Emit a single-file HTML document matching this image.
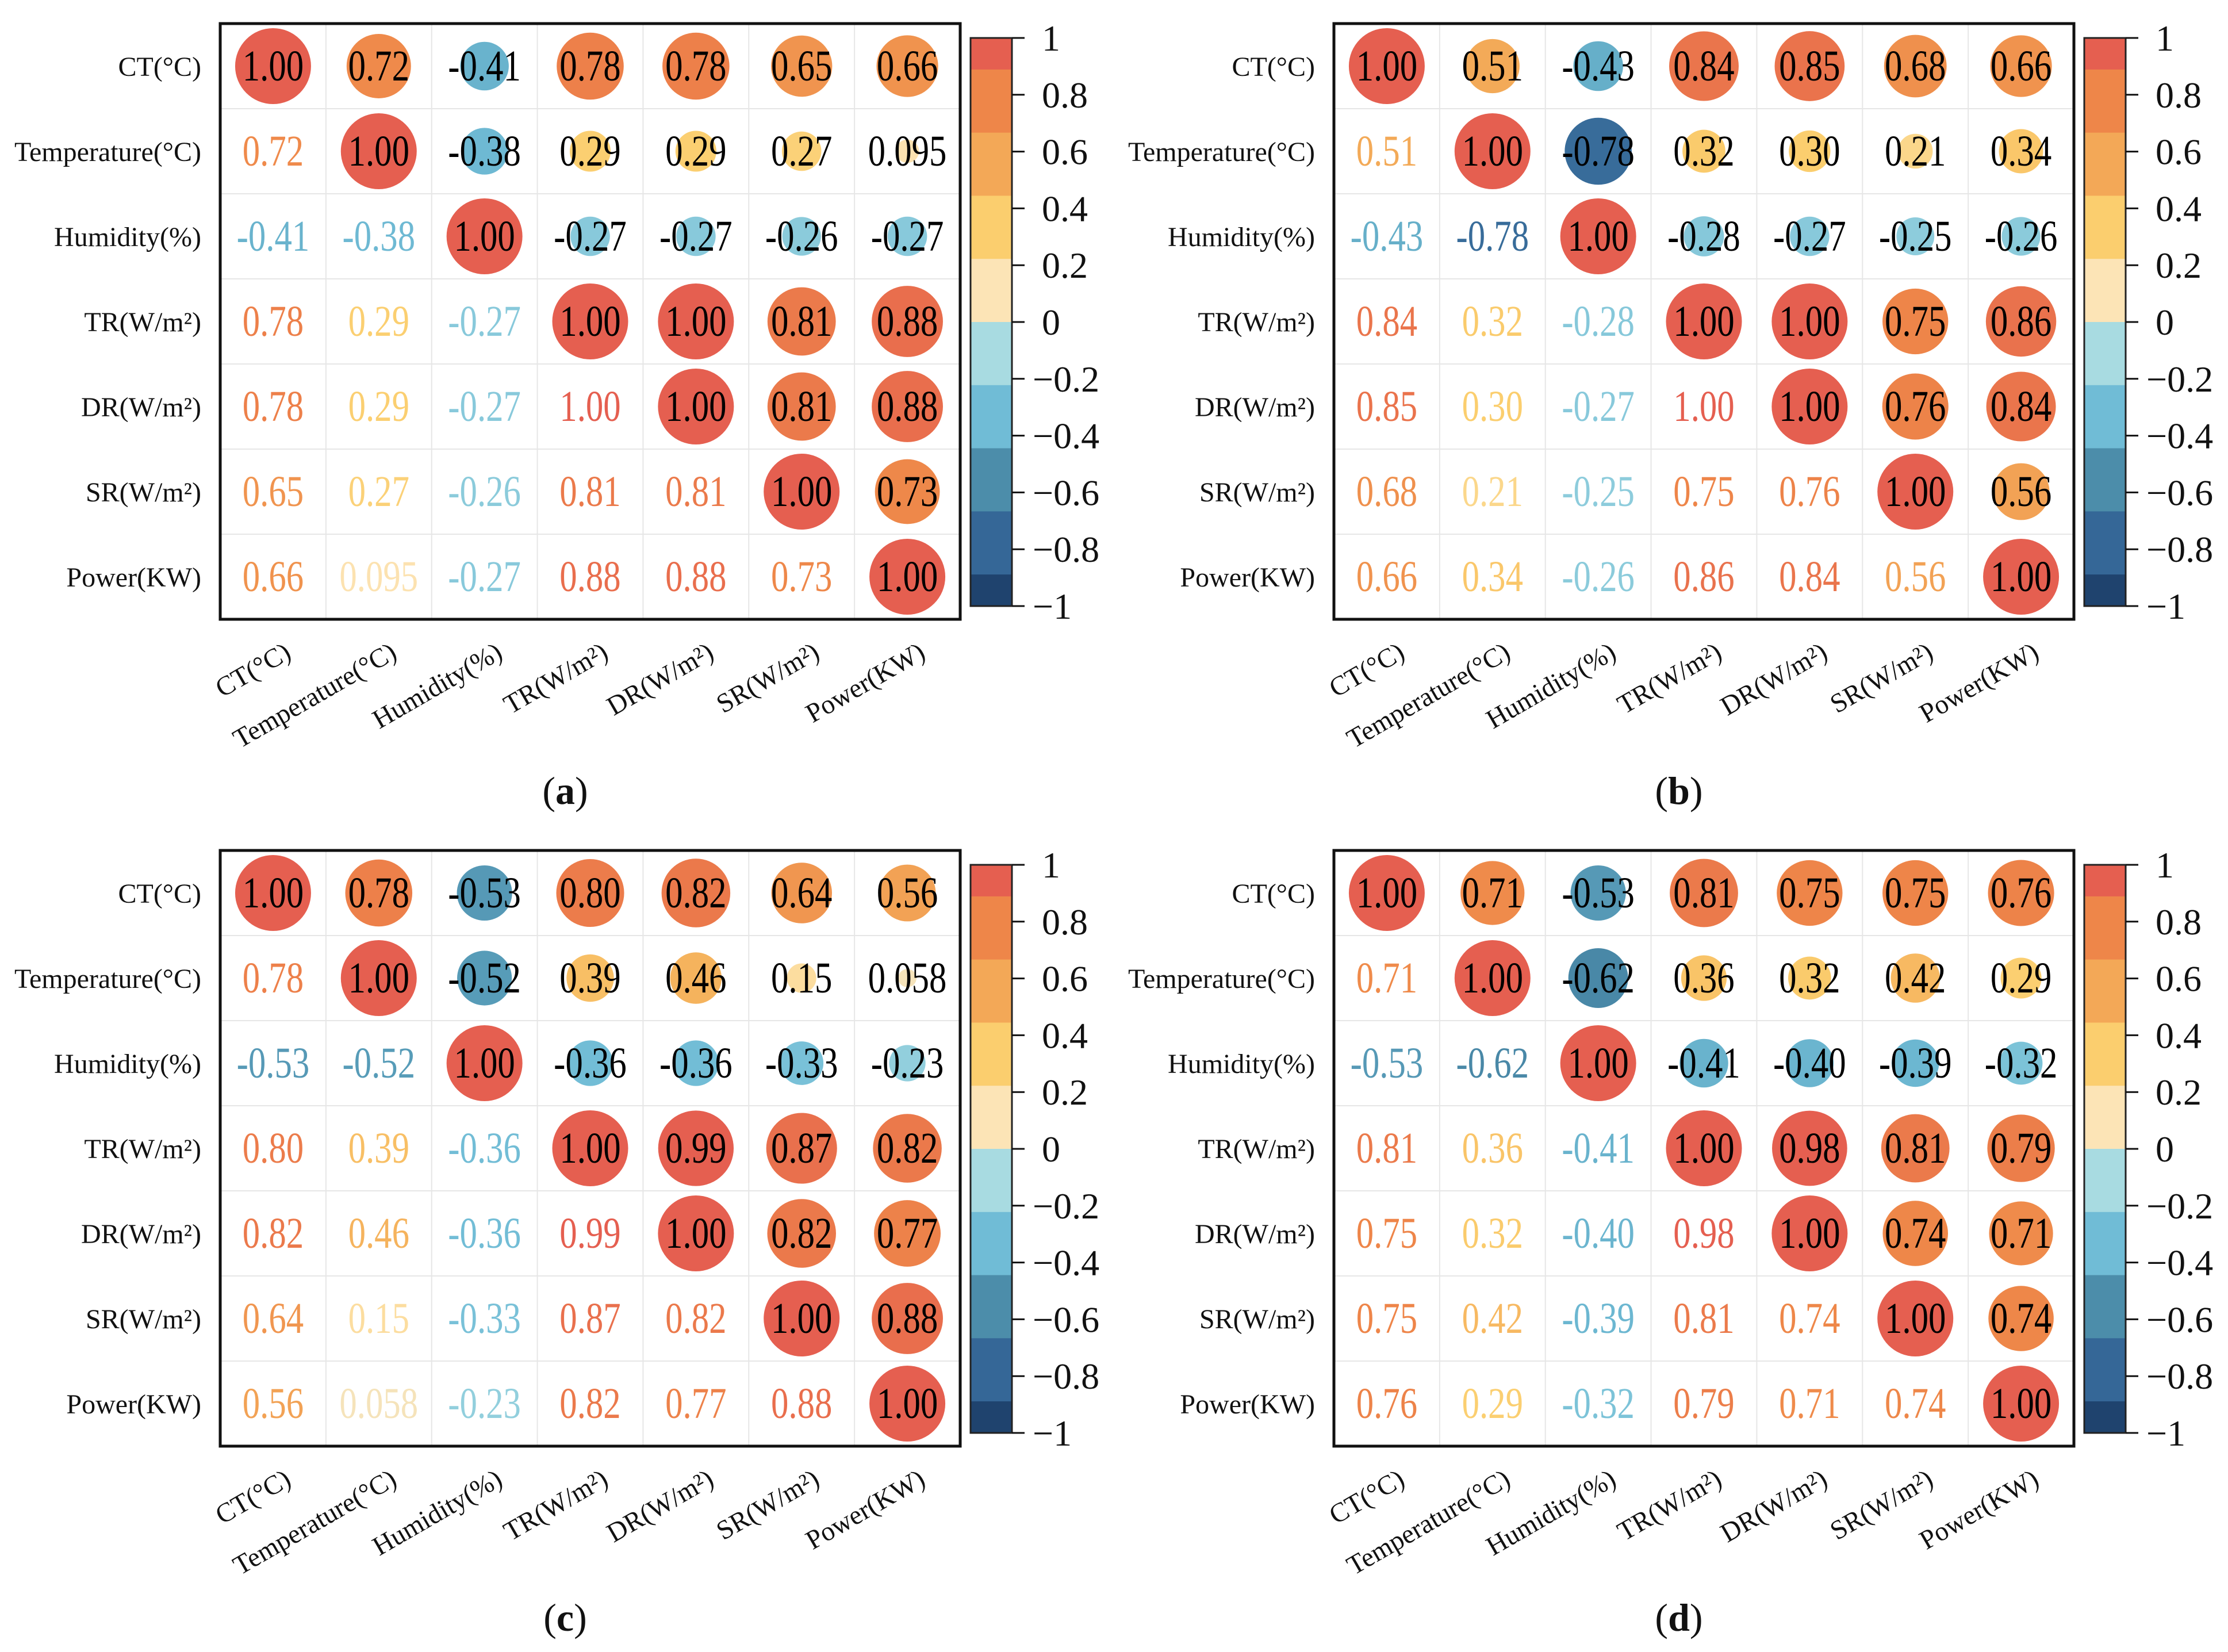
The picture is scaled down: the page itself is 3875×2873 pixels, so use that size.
<!DOCTYPE html>
<html><head><meta charset="utf-8">
<style>
html,body{margin:0;padding:0;background:#fff;}
svg{display:block;}
text{font-family:"Liberation Serif",serif;}
</style></head>
<body>
<svg id="fig" width="3875" height="2873" viewBox="0 0 3875 2873" xmlns="http://www.w3.org/2000/svg"></svg>
<script>
// ---- data ----
const varLabels = ["CT(°C)","Temperature(°C)","Humidity(%)","TR(W/m²)","DR(W/m²)","SR(W/m²)","Power(KW)"];
const colorbarTicks = [1,0.8,0.6,0.4,0.2,0,-0.2,-0.4,-0.6,-0.8,-1];
const panelLetters = ["(a)","(b)","(c)","(d)"];
const matrixA = [
 [1.00,0.72,-0.41,0.78,0.78,0.65,0.66],
 [0.72,1.00,-0.38,0.29,0.29,0.27,0.095],
 [-0.41,-0.38,1.00,-0.27,-0.27,-0.26,-0.27],
 [0.78,0.29,-0.27,1.00,1.00,0.81,0.88],
 [0.78,0.29,-0.27,1.00,1.00,0.81,0.88],
 [0.65,0.27,-0.26,0.81,0.81,1.00,0.73],
 [0.66,0.095,-0.27,0.88,0.88,0.73,1.00]];
const matrixB = [
 [1.00,0.51,-0.43,0.84,0.85,0.68,0.66],
 [0.51,1.00,-0.78,0.32,0.30,0.21,0.34],
 [-0.43,-0.78,1.00,-0.28,-0.27,-0.25,-0.26],
 [0.84,0.32,-0.28,1.00,1.00,0.75,0.86],
 [0.85,0.30,-0.27,1.00,1.00,0.76,0.84],
 [0.68,0.21,-0.25,0.75,0.76,1.00,0.56],
 [0.66,0.34,-0.26,0.86,0.84,0.56,1.00]];
const matrixC = [
 [1.00,0.78,-0.53,0.80,0.82,0.64,0.56],
 [0.78,1.00,-0.52,0.39,0.46,0.15,0.058],
 [-0.53,-0.52,1.00,-0.36,-0.36,-0.33,-0.23],
 [0.80,0.39,-0.36,1.00,0.99,0.87,0.82],
 [0.82,0.46,-0.36,0.99,1.00,0.82,0.77],
 [0.64,0.15,-0.33,0.87,0.82,1.00,0.88],
 [0.56,0.058,-0.23,0.82,0.77,0.88,1.00]];
const matrixD = [
 [1.00,0.71,-0.53,0.81,0.75,0.75,0.76],
 [0.71,1.00,-0.62,0.36,0.32,0.42,0.29],
 [-0.53,-0.62,1.00,-0.41,-0.40,-0.39,-0.32],
 [0.81,0.36,-0.41,1.00,0.98,0.81,0.79],
 [0.75,0.32,-0.40,0.98,1.00,0.74,0.71],
 [0.75,0.42,-0.39,0.81,0.74,1.00,0.74],
 [0.76,0.29,-0.32,0.79,0.71,0.74,1.00]];
// colormap top (1) to bottom (-1)
const cmap = ["#E55F50","#EE8649","#F3A857","#FBCE6E","#FCE4B6","#A8DBE1","#70BCD6","#4C8DAA","#356797","#1F436E"];

// ---- helpers ----
const NS = "http://www.w3.org/2000/svg";
const svg = document.getElementById("fig");
function mk(tag, attrs, parent){
  const e = document.createElementNS(NS, tag);
  for (const k in attrs) e.setAttribute(k, attrs[k]);
  (parent||svg).appendChild(e);
  return e;
}
function hex2rgb(h){return [parseInt(h.slice(1,3),16),parseInt(h.slice(3,5),16),parseInt(h.slice(5,7),16)];}
function colorFor(v){
  let t = (1 - v) * 4.5 - 0.15;
  t = Math.max(0, Math.min(9, t));
  const i = Math.floor(t), f = t - i;
  const a = hex2rgb(cmap[i]), b = hex2rgb(cmap[Math.min(9,i+1)]);
  const c = a.map((x,k)=>Math.round(x + (b[k]-x)*f));
  return "rgb("+c.join(",")+")";
}
function fmt(v){
  return Math.abs(v) < 0.1 ? v.toFixed(3) : v.toFixed(2);
}

const panels = [
  {m: matrixA, x0: 383, y0: 41},
  {m: matrixB, x0: 2320, y0: 41},
  {m: matrixC, x0: 383, y0: 1479},
  {m: matrixD, x0: 2320, y0: 1479}
];
const W = 1287, H = 1036, n = 7;
const cw = W / n, ch = H / n;
const rMax = 66;

panels.forEach((p, pi) => {
  const g = mk("g", {});
  
  
  const xScale = j => p.x0 + cw * (j + 0.5);
  const yScale = i => p.y0 + ch * (i + 0.5);
  for (let k = 1; k < n; k++) {
    const gl = mk("line", {x1: p.x0 + cw*k, y1: p.y0, x2: p.x0 + cw*k, y2: p.y0 + H, stroke: "#e6e6e6", "stroke-width": 2}, g);
    
    
    const gh = mk("line", {x1: p.x0, y1: p.y0 + ch*k, x2: p.x0 + W, y2: p.y0 + ch*k, stroke: "#e6e6e6", "stroke-width": 2}, g);
    
    
  }
  for (let i = 0; i < n; i++) for (let j = 0; j < n; j++) {
    const v = p.m[i][j];
    const cx = xScale(j), cy = yScale(i);
    const col = colorFor(v);
    if (j >= i) {
      const c = mk("circle", {cx: cx, cy: cy, r: rMax * Math.sqrt(Math.abs(v)), fill: col}, g);
      
      
    }
    const t = mk("text", {x: cx, y: cy + 25, "text-anchor": "middle", "font-size": 76, fill: j >= i ? "#000" : col, transform: "translate(" + cx + ",0) scale(0.8,1) translate(" + (-cx) + ",0)"}, g);
    
    
    t.textContent = fmt(v);
  }
  const fr = mk("rect", {x: p.x0, y: p.y0, width: W, height: H, fill: "none", stroke: "#111", "stroke-width": 5}, g);
  
  
  varLabels.forEach((lab, i) => {
    const t = mk("text", {x: p.x0 - 33, y: yScale(i) + 17, "text-anchor": "end", "font-size": 48, fill: "#111"}, g);
    
    
    t.textContent = lab;
  });
  varLabels.forEach((lab, j) => {
    const ax = xScale(j) + 34, ay = p.y0 + H + 66;
    const t = mk("text", {x: ax, y: ay, "text-anchor": "end", "font-size": 47, fill: "#111", transform: "rotate(-30 " + ax + " " + ay + ")"}, g);
    
    
    t.textContent = lab;
  });
  const cbx = p.x0 + 1305, cbw = 72, cby = p.y0 + 25, cbh = 988;
  const cbScale = v => cby + (1 - v) / 2 * cbh;
  const step = 2 / 9;
  cmap.forEach((c, k) => {
    const vTop = Math.min(1, 1 - k*step + step/2), vBot = Math.max(-1, 1 - k*step - step/2);
    const r = mk("rect", {x: cbx, y: cbScale(vTop), width: cbw, height: cbScale(vBot) - cbScale(vTop) + 0.5, fill: c}, g);
    
    
  });
  const cbf = mk("rect", {x: cbx, y: cby, width: cbw, height: cbh, fill: "none", stroke: "#222", "stroke-width": 3}, g);
  
  
  colorbarTicks.forEach(v => {
    const y = cbScale(v);
    const tk = mk("line", {x1: cbx + cbw, y1: y, x2: cbx + cbw + 22, y2: y, stroke: "#111", "stroke-width": 3}, g);
    
    
    const t = mk("text", {x: cbx + cbw + (v < 0 ? 36 : 52), y: y + 22, "font-size": 64, fill: "#111"}, g);
    
    
    t.textContent = v < 0 ? "−" + String(Math.abs(v)) : String(v);
  });
  const pl = mk("text", {x: p.x0 + 600, y: p.y0 + 1357, "text-anchor": "middle", "font-size": 68, fill: "#111"}, g);
  
  
  pl.innerHTML = panelLetters[pi].replace(/([a-d])/, '<tspan font-weight="bold">$1</tspan>');
});
</script>
</body></html>
